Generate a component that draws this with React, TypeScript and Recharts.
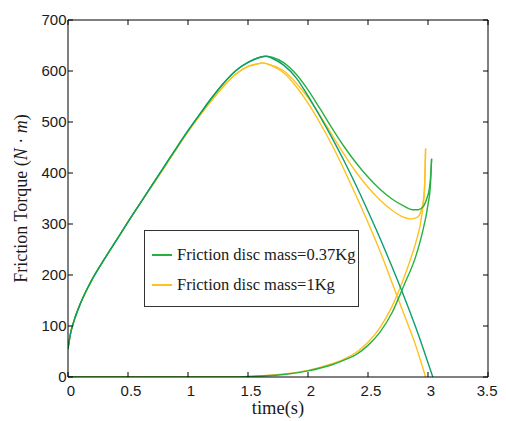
import React from 'react';
import { LineChart, Line, XAxis, YAxis, ReferenceLine, Legend } from 'recharts';

// ---------- tick labels ----------
const X_TICKS = [0, 0.5, 1, 1.5, 2, 2.5, 3, 3.5];
const X_LABELS = ['0', '0.5', '1', '1.5', '2', '2.5', '3', '3.5'];
const Y_TICKS = [0, 100, 200, 300, 400, 500, 600, 700];
const Y_LABELS = ['0', '100', '200', '300', '400', '500', '600', '700'];

// ---------- legend ----------
const LEGEND_LABELS = ['Friction disc mass=0.37Kg', 'Friction disc mass=1Kg'];

// ---------- Friction disc mass = 0.37Kg ----------
const riseT037 = [0, 0.02, 0.05, 0.1, 0.15, 0.2, 0.3, 0.4, 0.5, 0.6, 0.7, 0.8, 0.9, 1.0, 1.1, 1.2, 1.3, 1.4, 1.5, 1.6, 1.65];
const riseV037 = [55, 84, 110, 142, 168, 191, 230, 267, 304, 340, 376, 412, 448, 483, 516, 548, 577, 601, 617, 627, 629];
const totalT037 = [1.7, 1.8, 1.9, 2.0, 2.1, 2.2, 2.3, 2.4, 2.5, 2.6, 2.7, 2.8, 2.87, 2.92, 2.96, 2.99, 3.01, 3.02, 3.03];
const totalV037 = [627, 616, 594, 563, 526, 488, 452, 420, 392, 368, 349, 335, 328, 328, 334, 350, 368, 388, 428];
const fallT037 = [1.7, 1.8, 1.9, 2.0, 2.1, 2.2, 2.3, 2.4, 2.5, 2.6, 2.7, 2.8, 2.9, 3.0, 3.04];
const fallV037 = [625, 611, 587, 551, 511, 469, 424, 376, 325, 272, 216, 158, 96, 28, 0];
const growT037 = [0, 1.4, 1.6, 1.8, 2.0, 2.2, 2.3, 2.4, 2.5, 2.6, 2.7, 2.8, 2.9, 2.95, 3.0, 3.02, 3.03];
const growV037 = [0, 0, 2, 5, 12, 24, 33, 44, 62, 88, 126, 180, 238, 280, 338, 375, 428];

// ---------- Friction disc mass = 1Kg ----------
const riseT1 = [0, 0.02, 0.05, 0.1, 0.15, 0.2, 0.3, 0.4, 0.5, 0.6, 0.7, 0.8, 0.9, 1.0, 1.1, 1.2, 1.3, 1.4, 1.5, 1.6, 1.62];
const riseV1 = [55, 84, 110, 142, 168, 191, 230, 267, 304, 340, 375, 410, 446, 481, 513, 543, 571, 594, 609, 615, 616];
const totalT1 = [1.7, 1.8, 1.9, 2.0, 2.1, 2.2, 2.3, 2.4, 2.5, 2.6, 2.7, 2.8, 2.85, 2.9, 2.93, 2.95, 2.97, 2.98];
const totalV1 = [611, 600, 577, 548, 513, 475, 437, 402, 372, 347, 327, 313, 310, 312, 318, 332, 365, 448];
const fallT1 = [1.7, 1.8, 1.9, 2.0, 2.1, 2.2, 2.3, 2.4, 2.5, 2.6, 2.7, 2.8, 2.9, 2.98];
const fallV1 = [610, 596, 570, 537, 498, 455, 407, 356, 303, 247, 185, 123, 60, 0];
const growT1 = [0, 1.4, 1.6, 1.8, 2.0, 2.2, 2.3, 2.4, 2.5, 2.6, 2.7, 2.8, 2.85, 2.9, 2.95, 2.97, 2.98];
const growV1 = [0, 0, 2, 6, 13, 26, 35, 48, 68, 97, 138, 195, 228, 265, 320, 365, 448];

const GREEN = '#27b03f';
const TEAL = '#0a9f6c';
const YELLOW = '#ffc11e';
const LEGEND_COLORS = [GREEN, YELLOW];

const zip = (ts: number[], vs: number[]) => ts.map((t, i) => ({ t, v: vs[i] }));

const SERIES = [
  { id: 'total1', color: YELLOW, data: zip([...riseT1, ...totalT1], [...riseV1, ...totalV1]) },
  { id: 'fall1', color: YELLOW, data: zip([...riseT1, ...fallT1], [...riseV1, ...fallV1]) },
  { id: 'grow1', color: YELLOW, data: zip(growT1, growV1) },
  { id: 'total037', color: GREEN, data: zip([...riseT037, ...totalT037], [...riseV037, ...totalV037]) },
  { id: 'fall037', color: TEAL, data: zip([...riseT037, ...fallT037], [...riseV037, ...fallV037]) },
  { id: 'grow037', color: GREEN, data: zip(growT037, growV037) },
];

const W = 490;
const H = 413;
const MARGIN = { top: 12, right: 10, bottom: 0, left: 10 };
const Y_AXIS_W = 50;
const X_AXIS_H = 44;
const PLOT_TOP = MARGIN.top;
const PLOT_RIGHT = W - MARGIN.right;

const TICK_FONT = "'Liberation Sans', Arial, sans-serif";
const SERIF = "'Liberation Serif', 'Times New Roman', serif";

const BottomTick = (props: any) => {
  const { x, y, payload } = props;
  const i = X_TICKS.indexOf(payload.value);
  const last = i === X_TICKS.length - 1;
  return (
    <g>
      <line x1={x} x2={x} y1={y} y2={y - 5} stroke="#000" />
      <line x1={x} x2={x} y1={PLOT_TOP} y2={PLOT_TOP + 5} stroke="#000" />
      <text
        x={last ? x + 9.5 : x + 3}
        y={y + 18.5}
        textAnchor={last ? 'end' : 'middle'}
        fontFamily={TICK_FONT}
        fontSize={15}
        fill="#1a1a1a"
      >
        {X_LABELS[i]}
      </text>
    </g>
  );
};

const LeftTick = (props: any) => {
  const { x, y, payload } = props;
  const i = Y_TICKS.indexOf(payload.value);
  return (
    <g>
      <line x1={x} x2={x + 5} y1={y} y2={y} stroke="#000" />
      <line x1={PLOT_RIGHT} x2={PLOT_RIGHT - 5} y1={y} y2={y} stroke="#000" />
      <text x={x - 1.5} y={y} dy="0.36em" textAnchor="end" fontFamily={TICK_FONT} fontSize={15} fill="#1a1a1a">
        {Y_LABELS[i]}
      </text>
    </g>
  );
};

const XLabel = (props: any) => {
  const vb = props.viewBox;
  return (
    <text x={vb.x + vb.width / 2} y={vb.y + 37} textAnchor="middle" fontFamily={SERIF} fontSize={18.5} fill="#1a1a1a">
      time(s)
    </text>
  );
};

const YLabel = (props: any) => {
  const vb = props.viewBox;
  const cx = vb.x + 3;
  const cy = vb.y + vb.height / 2;
  return (
    <text
      x={cx}
      y={cy}
      transform={`rotate(-90, ${cx}, ${cy})`}
      textAnchor="middle"
      dominantBaseline="central"
      fontFamily={SERIF}
      fontSize={18}
      fill="#1a1a1a"
    >
      Friction Torque (<tspan fontStyle="italic">N</tspan> · <tspan fontStyle="italic">m</tspan>)
    </text>
  );
};

const LegendBox = () => (
  <div
    style={{
      position: 'relative',
      width: 215,
      height: 77,
      boxSizing: 'border-box',
      border: '1px solid #333',
      background: '#fff',
    }}
  >
    {LEGEND_LABELS.map((label, i) => (
      <div
        key={label}
        style={{
          position: 'absolute',
          left: 0,
          top: 12 + 30 * i,
          height: 24,
          display: 'flex',
          alignItems: 'center',
          whiteSpace: 'nowrap',
        }}
      >
        <div style={{ width: 20, height: 2, background: LEGEND_COLORS[i], marginLeft: 7 }} />
        <span style={{ marginLeft: 5, fontFamily: SERIF, fontSize: 16.5, color: '#1a1a1a', lineHeight: '24px' }}>
          {label}
        </span>
      </div>
    ))}
  </div>
);

export default function App() {
  return (
    <div style={{ width: W, height: H, position: 'relative' }}>
      <LineChart width={W} height={H} margin={MARGIN}>
        <XAxis
          dataKey="t"
          type="number"
          domain={[0, 3.5]}
          ticks={X_TICKS}
          interval={0}
          height={X_AXIS_H}
          tickSize={0}
          tickMargin={0}
          tickLine={false}
          axisLine={{ stroke: '#000' }}
          tick={<BottomTick />}
          label={XLabel}
          allowDataOverflow
        />
        <YAxis
          dataKey="v"
          type="number"
          domain={[0, 700]}
          ticks={Y_TICKS}
          interval={0}
          width={Y_AXIS_W}
          tickSize={0}
          tickMargin={0}
          tickLine={false}
          axisLine={{ stroke: '#000' }}
          tick={<LeftTick />}
          label={YLabel}
          allowDataOverflow
        />
        <ReferenceLine y={700} stroke="#000" />
        <ReferenceLine x={3.5} stroke="#000" />
        {SERIES.map((s) => (
          <Line
            key={s.id}
            data={s.data}
            dataKey="v"
            type="monotone"
            stroke={s.color}
            strokeWidth={1.4}
            dot={false}
            activeDot={false}
            legendType="none"
            isAnimationActive={false}
          />
        ))}
        <Legend
          layout="horizontal"
          verticalAlign="middle"
          align="center"
          content={<LegendBox />}
          wrapperStyle={{ left: 136, top: 222, width: 215, height: 77 }}
        />
      </LineChart>
    </div>
  );
}
